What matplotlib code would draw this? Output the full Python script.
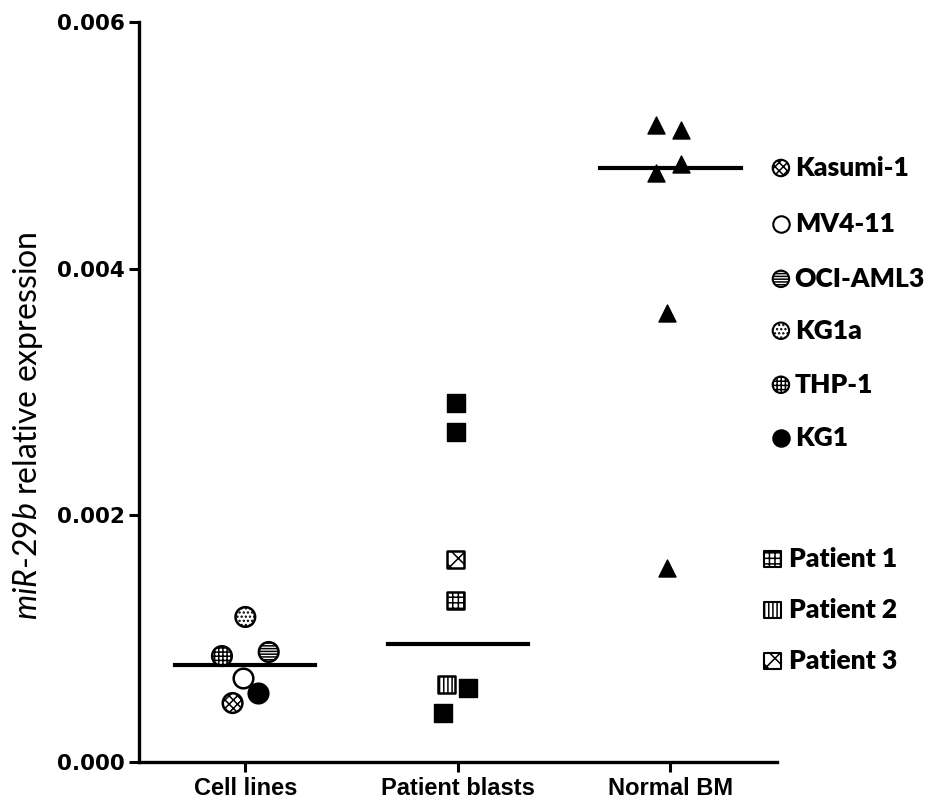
import numpy as np
import matplotlib.pyplot as plt

plt.rcParams['hatch.linewidth'] = 1.1
plt.rcParams['mathtext.fontset'] = 'custom'
plt.rcParams['mathtext.it'] = 'Lato:italic'
plt.rcParams['mathtext.rm'] = 'Lato'

groups = ['Cell lines', 'Patient blasts', 'Normal BM']

# cell lines (x jitter around group 0)
cell_names = ['Kasumi-1', 'MV4-11', 'OCI-AML3', 'KG1a', 'THP-1', 'KG1']
cell_x = [-0.06, -0.01, 0.11, 0.0, -0.11, 0.06]
cell_y = [0.000478, 0.000681, 0.000892, 0.001176, 0.000859, 0.000560]
cell_hatch = ['xxxx', None, '------', '....', '++++', None]
cell_face = ['white', 'white', 'white', 'white', 'white', 'black']

# patient blasts (group 1)
pat_names = ['Patient 1', 'Patient 2', 'Patient 3']
pat_x = [0.99, 0.945, 0.99]
pat_y = [0.001308, 0.000632, 0.001646]
pat_hatch = ['+++', '||||', 'xx']
other_x = [0.99, 0.99, 1.05, 0.93]
other_y = [0.002913, 0.002678, 0.000600, 0.000397]

# normal BM (group 2)
bm_x = [1.93, 2.05, 2.05, 1.93, 1.985, 1.985]
bm_y = [0.005165, 0.005124, 0.004849, 0.004778, 0.003640, 0.001573]

# horizontal lines
line_y = [0.000786, 0.000957, 0.004817]

fig = plt.figure(figsize=(9.46, 8.06), dpi=100)
ax = fig.add_axes([0.147, 0.0546, 0.674, 0.918])

for x, y, h, fc in zip(cell_x, cell_y, cell_hatch, cell_face):
    ax.scatter(x, y, s=200, marker='o', facecolor=fc, edgecolor='black',
               linewidth=1.8, hatch=h, zorder=3)
for x, y, h in zip(pat_x, pat_y, pat_hatch):
    ax.scatter(x, y, s=150, marker='s', facecolor='white', edgecolor='black',
               linewidth=1.8, hatch=h, zorder=3)
ax.scatter(other_x, other_y, s=160, marker='s', color='black', zorder=3)
ax.scatter(bm_x, bm_y, s=150, marker='^', color='black', zorder=3)

for i, m in enumerate(line_y):
    ax.plot([i - 0.33, i + 0.33], [m, m], color='black', lw=3, zorder=2)

ax.set_xlim(-0.5, 2.5)
ax.set_ylim(0, 0.006)
ax.set_xticks(range(3))
ax.set_xticklabels(groups, fontsize=17, fontweight='bold', family='Liberation Sans')
ax.set_yticks([0, 0.002, 0.004, 0.006])
ax.set_yticklabels(['0.000', '0.002', '0.004', '0.006'], fontsize=15.5,
                   fontweight='heavy', family='DejaVu Sans')
ax.tick_params(width=2.2, length=7, direction='out', color='black')
for s in ['top', 'right']:
    ax.spines[s].set_visible(False)
for s in ['left', 'bottom']:
    ax.spines[s].set_linewidth(2.4)
ax.set_ylabel(r'$\it{miR}$-$\it{29b}$ relative expression', fontsize=23,
              family='Lato')
ax.yaxis.set_label_coords(-0.148, 0.455)

# legend drawn by hand to the right of the axes
leg_y = [0.004817, 0.004364, 0.003918, 0.003497, 0.003059, 0.002630]
for n, h, fc, yy in zip(cell_names, cell_hatch, cell_face, leg_y):
    ax.scatter(2.52, yy, s=140, marker='o', facecolor=fc, edgecolor='black',
               linewidth=1.5, hatch=h, clip_on=False, zorder=3)
    ax.text(2.585, yy, n, fontsize=19, fontweight='heavy', family='Lato',
            va='center', ha='left')
pleg_y = [0.001646, 0.001233, 0.000819]
for n, h, yy in zip(pat_names, pat_hatch, pleg_y):
    ax.scatter(2.48, yy, s=140, marker='s', facecolor='white', edgecolor='black',
               linewidth=1.5, hatch=h, clip_on=False, zorder=3)
    ax.text(2.56, yy, n, fontsize=19, fontweight='heavy', family='Lato',
            va='center', ha='left')

fig.savefig('out.png', dpi=100)
